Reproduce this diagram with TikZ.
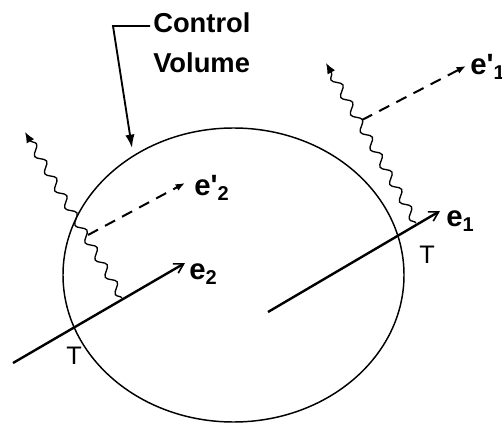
\documentclass[tikz,border=0pt]{standalone}
\usepackage{fontspec}
\setmainfont{Liberation Sans}
\usetikzlibrary{arrows.meta, positioning, calc, decorations.pathmorphing}
\newcommand{\lowsub}[1]{\raisebox{-0.3ex}{\fontsize{15}{15}\selectfont #1}}

\begin{document}
\begin{tikzpicture}[x=0.75pt, y=-0.75pt,
    ebeam/.style={line width=1.8pt, -{Straight Barb[length=7pt, width=8pt, line width=1.2pt]}},
    photon/.style={line width=1pt, decorate, decoration={snake, amplitude=3pt, segment length=15pt, post length=7pt}, -{Latex[length=8pt, width=6.5pt]}},
    scat/.style={line width=1.5pt, dash pattern=on 8.5pt off 6pt, -{Latex[length=7pt, width=5.5pt]}},
    lab/.style={font=\fontsize{22}{22}\selectfont\bfseries, inner sep=0pt, anchor=base west},
    tlab/.style={font=\fontsize{19}{19}\selectfont, inner sep=0pt}]
    \path[use as bounding box, clip] (0,0) rectangle (502,423);
    % control volume
    \draw[line width=1.1pt] (233.5,275) ellipse [x radius=170.5, y radius=147];
    \node (cvlab) [font=\fontsize{20.5}{30}\selectfont\bfseries, align=left, anchor=north west, inner sep=0pt] at (153,12) {Control\\Volume};
    \coordinate (bend) at (113,26);
    \coordinate (cvtip) at (132,148);
    \draw[line width=1.4pt, -{Latex[length=10pt, width=7pt]}] ($(cvlab.north west)+(-3,14)$) -- (bend) -- (cvtip);
    % left electron
    \coordinate (e2s) at (13,363);
    \coordinate (e2t) at (185,263);
    \coordinate (g2s) at (122,298);
    \coordinate (g2t) at (25,132);
    \coordinate (s2s) at (88,235);
    \coordinate (s2t) at (185,183);
    \draw[ebeam] (e2s) -- (e2t);
    \draw[photon] (g2s) -- (g2t);
    \draw[scat] (s2s) -- (s2t);
    \node (e2lab) [lab] at (189,280) {e\lowsub{2}};
    \node (s2lab) [lab] at (194,196) {e\textquotesingle\lowsub{2}};
    \node (tl) [tlab] at (74,356) {T};
    % right electron
    \coordinate (e1s) at (268,312);
    \coordinate (e1t) at (440,211);
    \coordinate (g1s) at (416,223);
    \coordinate (g1t) at (326,63);
    \coordinate (s1s) at (362,120);
    \coordinate (s1t) at (466,66);
    \draw[ebeam] (e1s) -- (e1t);
    \draw[photon] (g1s) -- (g1t);
    \draw[scat] (s1s) -- (s1t);
    \node (e1lab) [lab] at (446,227) {e\lowsub{1}};
    \node (s1lab) [lab] at (470,75) {e\textquotesingle\lowsub{1}};
    \node (tr) [tlab] at (427,255) {T};
\end{tikzpicture}
\end{document}
